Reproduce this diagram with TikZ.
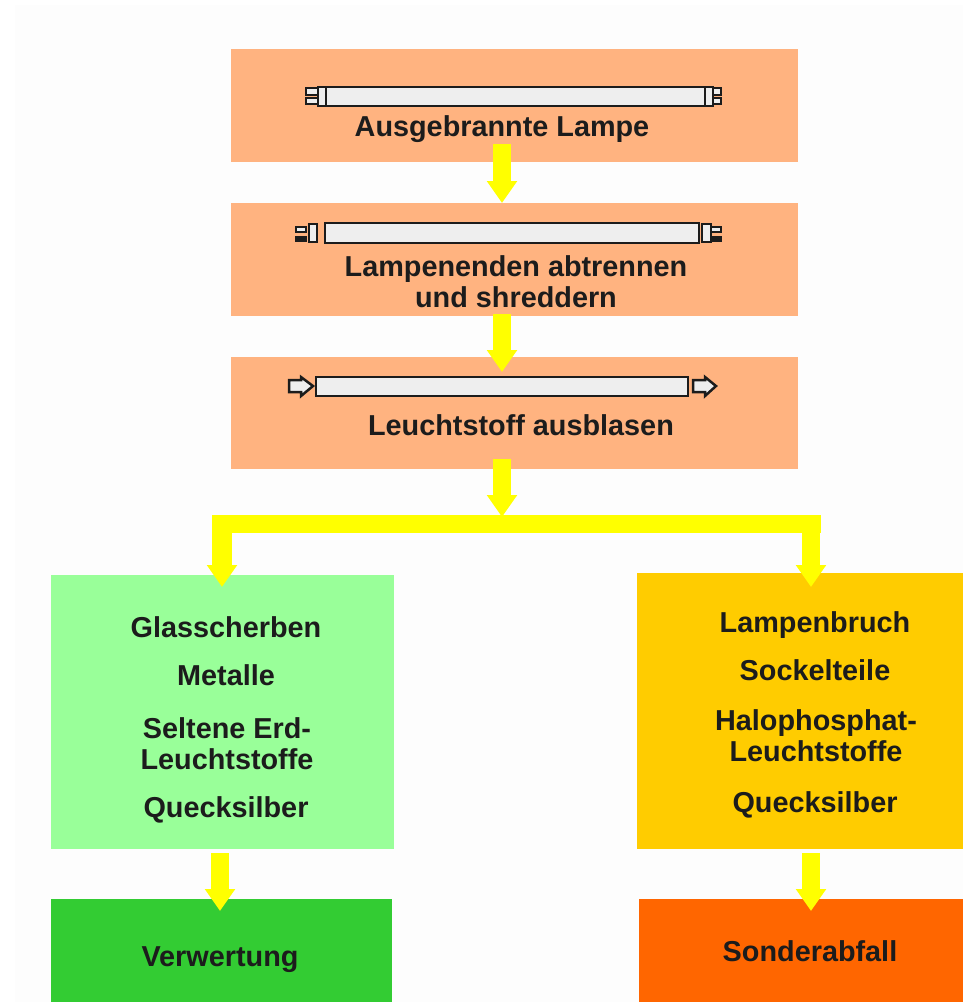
\documentclass[tikz,border=0pt]{standalone}
\usepackage{fontspec}
\setmainfont{Liberation Sans}
\usetikzlibrary{arrows.meta}
\definecolor{lampbg}{HTML}{FFB380}
\definecolor{metalbg}{HTML}{99FF99}
\definecolor{wastebg}{HTML}{FFCC00}
\definecolor{reusebg}{HTML}{33CC33}
\definecolor{specialbg}{HTML}{FF6600}
\definecolor{tubegray}{HTML}{EEEEEE}
\definecolor{inkgray}{HTML}{1C1C1C}
\definecolor{flowyellow}{RGB}{255,255,0}
\definecolor{paperbg}{HTML}{FDFDFD}
\tikzset{
  every node/.style={inner sep=0pt, text=inkgray, align=center, font=\bfseries\fontsize{16.4}{17.6}\selectfont},
  panel/.style={minimum width=#1*0.02cm, anchor=north west},
  flow/.style={flowyellow, line width=0.36cm, -{Triangle[width=0.58cm,length=0.44cm]}},
  tube/.style={draw=inkgray, fill=tubegray, line width=0.05cm},
}
\begin{document}
\begin{tikzpicture}[x=0.02cm,y=-0.02cm]
   \useasboundingbox (0,0) rectangle (963,1002);
   \fill[white] (0,0) rectangle (963,1002);
   \fill[paperbg] (15,5) rectangle (963,1002);
   \begin{scope}
    \node[panel=567, minimum height=2.26cm, fill=lampbg] (burnt) at (231,49) {};
    \node[panel=567, minimum height=2.26cm, fill=lampbg] (cut) at (231,203) {};
    \node[panel=567, minimum height=2.24cm, fill=lampbg] (blow) at (231,357) {};
    \node[panel=343, minimum height=5.48cm, fill=metalbg] (glass) at (51,575) {};
    \node[panel=326, minimum height=5.52cm, fill=wastebg] (breakage) at (637,573) {};
    \node[panel=341, minimum height=2.06cm, fill=reusebg] (reuse) at (51,899) {};
    \node[panel=324, minimum height=2.06cm, fill=specialbg] (special) at (639,899) {};
   \end{scope}
   \begin{scope}
    \draw[tube] (306,88) rectangle (318,95);
    \draw[tube] (306,98) rectangle (318,104);
    \draw[tube] (713,88) rectangle (721,95);
    \draw[tube] (713,98) rectangle (721,104);
    \draw[tube] (318,87) rectangle (713,106);
    \draw[tube] (326,87) -- (326,106);
    \draw[tube] (705,87) -- (705,106);
   \end{scope}
   \begin{scope}
    \draw[tube] (296,227) rectangle (306,232);
    \draw[tube, fill=inkgray] (296,237) rectangle (306,241);
    \draw[tube] (309,224) rectangle (317,242);
    \draw[tube] (325,223) rectangle (699,243);
    \draw[tube] (711,227) rectangle (721,232);
    \draw[tube, fill=inkgray] (711,237) rectangle (721,241);
    \draw[tube] (702,224) rectangle (711,242);
   \end{scope}
   \begin{scope}
    \draw[tube] (316,377) rectangle (688,396);
    \draw[tube] (289,380) -- (301,380) -- (301,377) -- (313,386) -- (301,396) -- (301,392) -- (289,392) -- cycle;
    \draw[tube] (693,380) -- (705,380) -- (705,377) -- (716,386) -- (705,396) -- (705,392) -- (693,392) -- cycle;
   \end{scope}
   \node (t1) at (502,129) {Ausgebrannte Lampe};
   \node (t2) at (516,282) {Lampenenden abtrennen\\und shreddern};
   \node (t3) at (521,425) {Leuchtstoff ausblasen};
   \node (g1) at (226,627) {Glasscherben};
   \node (g2) at (226,675) {Metalle};
   \node (g3) at (227,744) {Seltene Erd-\\Leuchtstoffe};
   \node (g4) at (226,810) {Quecksilber};
   \node (b1) at (815,625) {Lampenbruch};
   \node (b2) at (815,670) {Sockelteile};
   \node (b3) at (816,736) {Halophosphat-\\Leuchtstoffe};
   \node (b4) at (815,805) {Quecksilber};
   \node (r1) at (220,960) {Verwertung};
   \node (s1) at (810,951) {Sonderabfall};
   \coordinate (a1) at (502,144);
   \coordinate (a2) at (502,203);
   \coordinate (c1) at (502,314);
   \coordinate (c2) at (502,372);
   \coordinate (d1) at (502,459);
   \coordinate (d2) at (502,517);
   \coordinate (barl) at (212,524);
   \coordinate (barr) at (821,524);
   \coordinate (e1) at (222,530);
   \coordinate (e2) at (222,587);
   \coordinate (f1) at (811,530);
   \coordinate (f2) at (811,587);
   \coordinate (h1) at (220,853);
   \coordinate (h2) at (220,911);
   \coordinate (i1) at (811,853);
   \coordinate (i2) at (811,911);
   \draw[flow] (a1) -- (a2);
   \draw[flow] (c1) -- (c2);
   \draw[flow] (d1) -- (d2);
   \draw[flowyellow, line width=0.36cm] (barl) -- (barr);
   \draw[flow, line width=0.4cm] (e1) -- (e2);
   \draw[flow] (f1) -- (f2);
   \draw[flow] (h1) -- (h2);
   \draw[flow] (i1) -- (i2);
  \end{tikzpicture}
\end{document}
